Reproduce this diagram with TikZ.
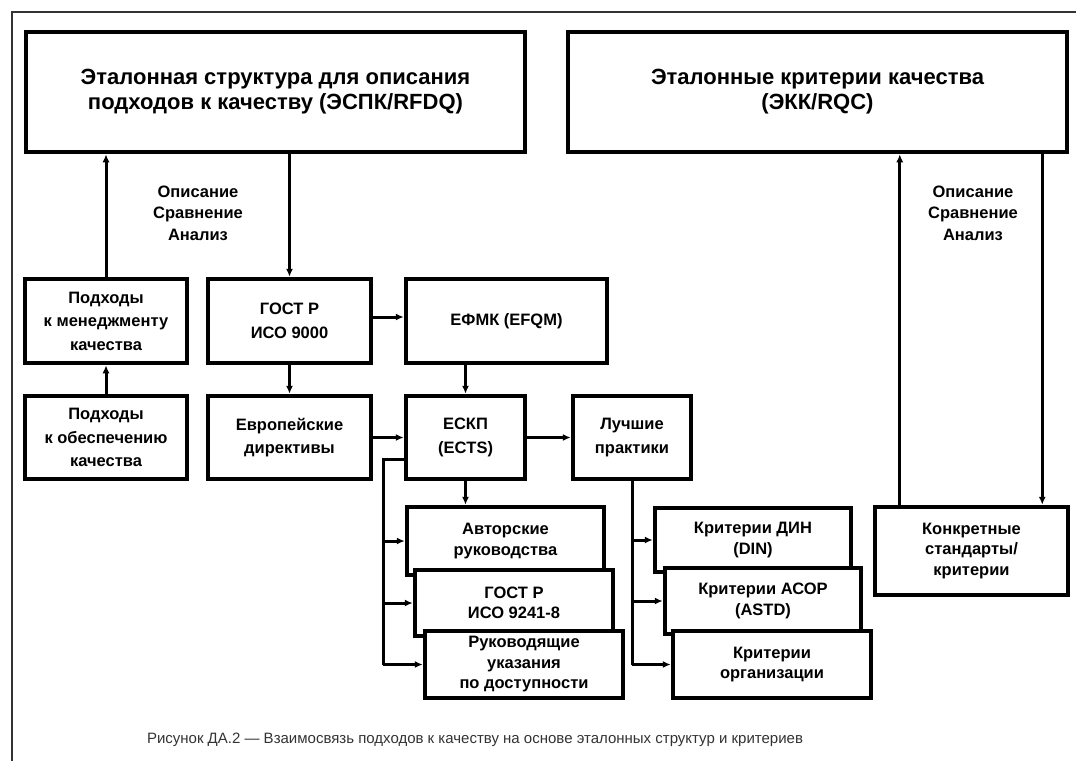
\documentclass[tikz,border=0pt]{standalone}
\usepackage{fontspec}
\setmainfont{Liberation Sans}
\usetikzlibrary{arrows.meta,positioning}
\newcommand{\boxfont}{\fontsize{16.5}{23.5}\selectfont\bfseries}
\newcommand{\lowfont}{\fontsize{16.5}{20.5}\selectfont\bfseries}
\newcommand{\bigfont}{\fontsize{22}{25}\selectfont\bfseries}
\tikzset{
    blk/.style={draw,line width=4.5pt,fill=white,align=center,inner sep=0pt,font=\boxfont},
    blk big/.style={blk,font=\bigfont},
    blk low/.style={blk,font=\lowfont},
    sz/.style 2 args={minimum width=#1,minimum height=#2},
    lbl/.style={align=center,font=\fontsize{16.5}{21.5}\selectfont\bfseries},
    conn/.style={line width=3pt},
}

\begin{document}
\begin{tikzpicture}[x=1pt,y=-1pt,>={Latex[length=8pt,width=7pt]}]
  \useasboundingbox (0,0) rectangle (1076,761);
  % frame
  \draw[line width=1.5pt,black!80] (12,761) -- (12,12) -- (1076,12);

  % reference structures
  \node[blk big,sz={499pt}{120pt}] (ref) at (275.5,92) {Эталонная структура для описания\\подходов к качеству (ЭСПК/RFDQ)};
  \node[blk big,sz={499pt}{120pt}] (rqc) at (817.5,92) {Эталонные критерии качества\\(ЭКК/RQC)};

  % middle row
  \node[blk,sz={162pt}{84pt}] (qm) at (106,321) {Подходы\\к менеджменту\\качества};
  \node[blk,sz={163pt}{84pt}] (gost9000) at (289.5,321) {ГОСТ Р\\ИСО 9000};
  \node[blk,sz={201pt}{84pt}] (efqm) at (506.5,321) {ЕФМК (EFQM)};

  \node[blk,sz={162pt}{83pt}] (qa) at (106,437.5) {Подходы\\к обеспечению\\качества};
  \node[blk,sz={163pt}{83pt}] (eu) at (289.5,437.5) {Европейские\\директивы};
  \node[blk,sz={119pt}{83pt}] (ects) at (465.5,437.5) {ЕСКП\\(ECTS)};
  \node[blk,sz={118pt}{83pt}] (best) at (632,437.5) {Лучшие\\практики};

  % stacked boxes
  \node[blk low,sz={197pt}{68pt}] (auth) at (505.5,541) {Авторские\\руководства};
  \node[blk low,sz={198pt}{66pt}] (gost9241) at (514,603) {ГОСТ Р\\ИСО 9241-8};
  \node[blk low,sz={198pt}{67pt}] (guide) at (524,664.5) {Руководящие\\указания\\по доступности};

  \node[blk low,sz={196pt}{64pt}] (din) at (753,540) {Критерии ДИН\\(DIN)};
  \node[blk low,sz={196pt}{66pt}] (astd) at (763,601) {Критерии АСОР\\(ASTD)};
  \node[blk low,sz={198pt}{67pt}] (org) at (772,664.5) {Критерии\\организации};

  \node[blk low,sz={193pt}{88pt}] (conc) at (971.5,551) {Конкретные\\стандарты/\\критерии};

  % labels
  \node[lbl] (descL) at (198,213) {Описание\\Сравнение\\Анализ};
  \node[lbl] (descR) at (973,213) {Описание\\Сравнение\\Анализ};

  % connectors
  \draw[conn,->] (qm.north) -- (qm.north |- ref.south);
  \draw[conn,->] (gost9000.north |- ref.south) -- (gost9000.north);
  \draw[conn,->] (qa.north) -- (qm.south);
  \draw[conn,->] (gost9000.south) -- (eu.north);
  \draw[conn,->] ([yshift=4pt]gost9000.east) -- ([yshift=4pt]efqm.west);
  \draw[conn,->] (eu.east) -- (ects.west);
  \draw[conn,->] (efqm.south -| ects.north) -- (ects.north);
  \draw[conn,->] (ects.east) -- (best.west);
  \draw[conn,->] (ects.south) -- (ects.south |- auth.north);

  \coordinate (busL) at (383,664.5);
  \draw[conn] ([yshift=-22pt]ects.west) -| (busL);
  \draw[conn,->] (busL |- auth.west) -- (auth.west);
  \draw[conn,->] (busL |- gost9241.west) -- (gost9241.west);
  \draw[conn,->] (busL) -- (guide.west);

  \coordinate (busR) at (best.south |- org.west);
  \draw[conn] (best.south) -- (busR);
  \draw[conn,->] (busR |- din.west) -- (din.west);
  \draw[conn,->] (busR |- astd.west) -- (astd.west);
  \draw[conn,->] (busR) -- (org.west);

  \draw[conn,->] ([xshift=27pt]conc.north west) -- ([xshift=27pt]conc.north west |- rqc.south);
  \draw[conn,->] ([xshift=-28pt]conc.north east |- rqc.south) -- ([xshift=-28pt]conc.north east);

  % caption
  \node[font=\fontsize{15}{17}\selectfont,text=black!80] (cap) at (475,740) {Рисунок ДА.2 — Взаимосвязь подходов к качеству на основе эталонных структур и критериев};
\end{tikzpicture}
\end{document}
